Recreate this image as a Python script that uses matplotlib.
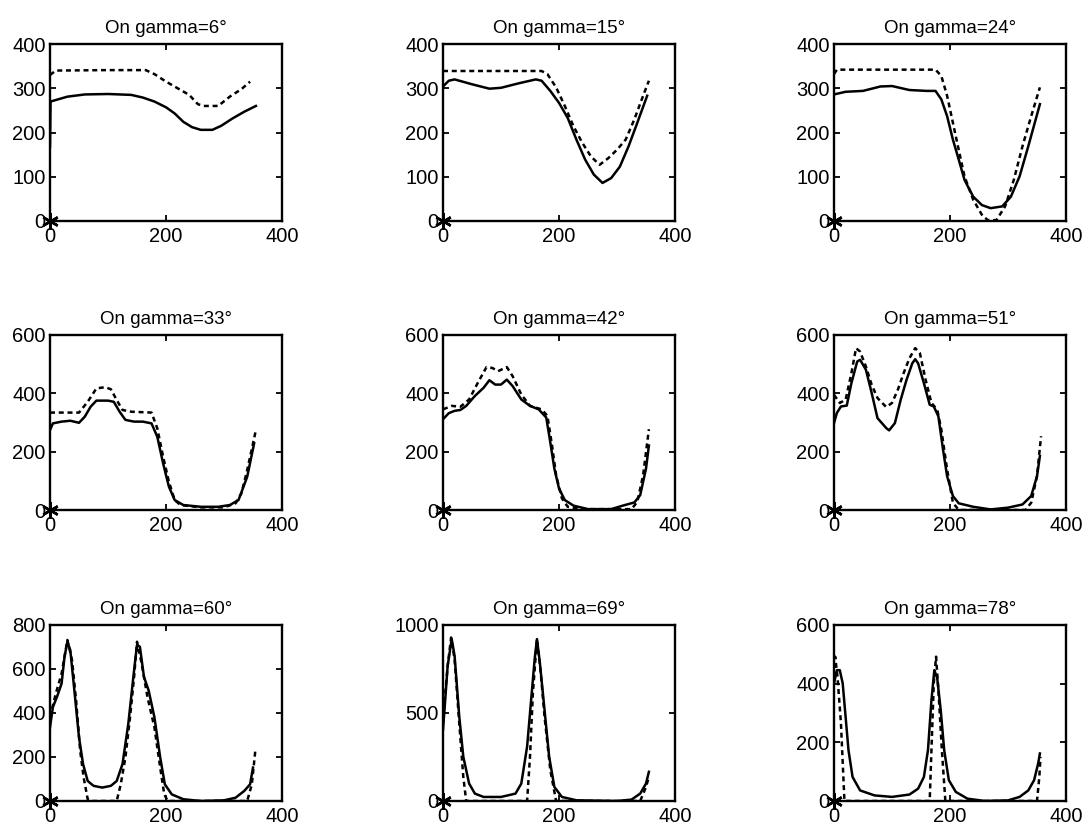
import matplotlib
matplotlib.use("Agg")
import matplotlib.pyplot as plt

plt.rcParams['font.family'] = ['Liberation Sans', 'DejaVu Sans']

# Incidence angles (deg) of the nine panels
gammas = [6, 15, 24, 33, 42, 51, 60, 69, 78]
y_limits = [400, 400, 400, 600, 600, 600, 800, 1000, 600]
y_ticks = [
    [0, 100, 200, 300, 400], [0, 100, 200, 300, 400], [0, 100, 200, 300, 400],
    [0, 200, 400, 600], [0, 200, 400, 600], [0, 200, 400, 600],
    [0, 200, 400, 600, 800], [0, 500, 1000], [0, 200, 400, 600],
]
x_ticks = [0, 200, 400]

# gamma = 6
g06_solid_x = [0, 1, 30, 60, 100, 140, 160, 180, 200, 215, 230, 245, 260, 280, 295, 315, 335, 355]
g06_solid_y = [168, 270, 281, 286, 287, 285, 279, 270, 257, 243, 224, 212, 206, 206, 215, 232, 247, 260]
g06_dash_x = [0, 10, 100, 165, 180, 200, 220, 240, 255, 265, 290, 310, 330, 345]
g06_dash_y = [330, 340, 341, 341, 332, 315, 300, 285, 264, 260, 260, 281, 298, 315]

# gamma = 15
g15_solid_x = [0, 10, 20, 50, 80, 100, 130, 160, 170, 185, 200, 215, 230, 245, 260, 275, 290, 305, 320, 335, 352]
g15_solid_y = [304, 317, 320, 309, 299, 301, 311, 320, 317, 294, 267, 233, 184, 139, 105, 86, 97, 123, 169, 222, 283]
g15_dash_x = [0, 170, 180, 195, 210, 225, 240, 255, 270, 285, 300, 315, 330, 345, 355]
g15_dash_y = [339, 339, 332, 302, 260, 214, 177, 146, 127, 142, 161, 184, 230, 283, 317]

# gamma = 24
g24_solid_x = [0, 20, 50, 80, 100, 130, 160, 175, 185, 195, 205, 215, 225, 240, 255, 270, 290, 305, 320, 335, 355]
g24_solid_y = [286, 292, 294, 304, 305, 296, 294, 294, 275, 237, 184, 139, 93, 55, 36, 29, 33, 55, 101, 169, 264]
g24_dash_x = [0, 5, 175, 185, 195, 205, 215, 225, 240, 255, 265, 280, 295, 310, 325, 340, 355]
g24_dash_y = [332, 342, 342, 328, 283, 222, 161, 101, 48, 14, 2, 2, 33, 93, 169, 237, 302]

# gamma = 33
g33_solid_x = [0, 5, 20, 35, 50, 60, 70, 80, 100, 110, 120, 130, 145, 160, 175, 185, 195, 205, 215, 230, 260, 290, 310, 325, 340, 352]
g33_solid_y = [274, 297, 303, 306, 299, 320, 354, 375, 375, 371, 337, 309, 303, 303, 297, 251, 160, 80, 34, 17, 11, 11, 17, 34, 114, 229]
g33_dash_x = [0, 50, 65, 80, 95, 105, 115, 125, 140, 175, 185, 195, 205, 215, 225, 260, 300, 320, 330, 340, 355]
g33_dash_y = [334, 334, 371, 417, 421, 414, 377, 343, 337, 334, 280, 183, 97, 34, 17, 9, 9, 23, 57, 137, 274]

# gamma = 42
g42_solid_x = [0, 10, 20, 30, 40, 55, 70, 80, 90, 100, 110, 120, 135, 150, 165, 178, 185, 192, 200, 210, 225, 250, 290, 310, 330, 340, 350, 355]
g42_solid_y = [311, 332, 340, 343, 357, 391, 419, 445, 430, 430, 447, 425, 379, 357, 345, 317, 232, 142, 74, 34, 15, 3, 3, 15, 26, 51, 142, 221]
g42_dash_x = [0, 15, 30, 45, 60, 75, 85, 95, 110, 120, 135, 150, 170, 180, 188, 195, 205, 215, 240, 325, 335, 345, 355]
g42_dash_y = [345, 357, 354, 379, 436, 490, 487, 476, 490, 459, 396, 357, 345, 323, 221, 119, 40, 11, 3, 3, 28, 119, 277]

# gamma = 51
g51_solid_x = [0, 5, 12, 22, 30, 40, 45, 55, 65, 75, 90, 95, 105, 115, 125, 135, 140, 145, 155, 165, 172, 180, 188, 195, 205, 215, 240, 270, 300, 325, 340, 350, 355]
g51_solid_y = [298, 333, 355, 358, 435, 509, 515, 481, 401, 315, 281, 273, 298, 378, 446, 503, 517, 503, 435, 361, 355, 321, 207, 116, 48, 23, 11, 2, 8, 19, 48, 116, 185]
g51_dash_x = [0, 10, 20, 30, 38, 45, 55, 65, 75, 90, 100, 110, 120, 130, 140, 148, 158, 168, 178, 185, 195, 205, 215, 330, 340, 350, 357]
g51_dash_y = [395, 367, 378, 469, 555, 543, 492, 429, 384, 353, 367, 412, 469, 520, 555, 538, 446, 367, 344, 276, 139, 25, 0, 0, 25, 116, 253]

# gamma = 60
g60_solid_x = [0, 5, 12, 20, 25, 30, 35, 42, 50, 57, 65, 75, 90, 105, 115, 125, 135, 145, 150, 155, 162, 170, 180, 190, 198, 210, 230, 260, 300, 320, 335, 345, 350]
g60_solid_y = [335, 427, 473, 534, 655, 724, 686, 503, 290, 168, 91, 69, 61, 69, 91, 168, 351, 595, 709, 701, 564, 503, 381, 198, 76, 30, 8, 0, 3, 15, 46, 76, 152]
g60_dash_x = [0, 10, 20, 30, 38, 45, 52, 58, 65, 70, 115, 122, 130, 138, 145, 150, 158, 168, 180, 190, 197, 203, 340, 348, 354]
g60_dash_y = [381, 488, 579, 732, 640, 457, 229, 107, 8, 0, 0, 76, 198, 381, 564, 724, 625, 473, 335, 152, 30, 0, 0, 76, 229]

# gamma = 69
g69_solid_x = [0, 3, 8, 15, 20, 28, 35, 45, 55, 70, 100, 125, 135, 145, 152, 158, 162, 167, 175, 183, 192, 205, 230, 300, 325, 340, 350, 355]
g69_solid_y = [405, 538, 767, 920, 824, 481, 252, 99, 42, 23, 23, 42, 99, 309, 576, 805, 920, 786, 519, 252, 80, 23, 4, 0, 8, 42, 99, 166]
g69_dash_x = [0, 8, 14, 20, 28, 35, 40, 145, 150, 155, 162, 168, 175, 185, 195, 340, 350, 355]
g69_dash_y = [462, 767, 929, 805, 443, 137, 0, 0, 252, 614, 920, 748, 481, 176, 0, 0, 80, 137]

# gamma = 78
g78_solid_x = [0, 5, 10, 15, 20, 25, 32, 45, 70, 100, 130, 145, 155, 162, 168, 173, 178, 184, 190, 198, 210, 230, 260, 300, 320, 335, 345, 352, 355]
g78_solid_y = [401, 446, 446, 401, 287, 173, 82, 36, 19, 14, 22, 42, 82, 173, 344, 446, 418, 310, 173, 71, 31, 8, 0, 2, 14, 36, 71, 128, 162]
g78_dash_x = [0, 2, 6, 12, 18, 165, 168, 172, 176, 180, 186, 192, 350, 354, 356]
g78_dash_y = [424, 492, 424, 264, 0, 0, 173, 401, 492, 378, 173, 0, 0, 82, 150]

solid_curves = [
    (g06_solid_x, g06_solid_y), (g15_solid_x, g15_solid_y), (g24_solid_x, g24_solid_y),
    (g33_solid_x, g33_solid_y), (g42_solid_x, g42_solid_y), (g51_solid_x, g51_solid_y),
    (g60_solid_x, g60_solid_y), (g69_solid_x, g69_solid_y), (g78_solid_x, g78_solid_y),
]
dashed_curves = [
    (g06_dash_x, g06_dash_y), (g15_dash_x, g15_dash_y), (g24_dash_x, g24_dash_y),
    (g33_dash_x, g33_dash_y), (g42_dash_x, g42_dash_y), (g51_dash_x, g51_dash_y),
    (g60_dash_x, g60_dash_y), (g69_dash_x, g69_dash_y), (g78_dash_x, g78_dash_y),
]

W, H = 1089, 827
fig = plt.figure(figsize=(W / 100, H / 100), dpi=100)

col_left = [50, 443, 834]
row_top = [44, 335, 625]
row_bottom = [221, 510, 801]
ax_w = 232

for i, g in enumerate(gammas):
    r, c = divmod(i, 3)
    left = col_left[c]
    top, bottom = row_top[r], row_bottom[r]
    ax = fig.add_axes([left / W, 1 - bottom / H, ax_w / W, (bottom - top) / H])

    sx, sy = solid_curves[i]
    dx, dy = dashed_curves[i]
    ax.plot(sx, sy, color='black', lw=1.8, solid_joinstyle='round')
    ax.plot(dx, dy, color='black', lw=1.8, linestyle=(0, (2.0, 1.5)))
    ax.plot([0], [0], marker=(6, 2, 0), color='black', markersize=12,
            markeredgewidth=1.8, clip_on=False, zorder=5)

    ax.set_xlim(0, 400)
    ax.set_ylim(0, y_limits[i])
    ax.set_xticks(x_ticks)
    ax.set_yticks(y_ticks[i])
    ax.tick_params(direction='in', length=4, width=1.3, top=True, right=True,
                   labelsize=14.5, pad=3)
    ax.tick_params(axis='x', pad=4)
    for sp in ax.spines.values():
        sp.set_linewidth(1.7)
    ax.set_title(f"On gamma={g}°", fontsize=13.5, pad=8)

fig.savefig("out.png", dpi=100, facecolor='white')
